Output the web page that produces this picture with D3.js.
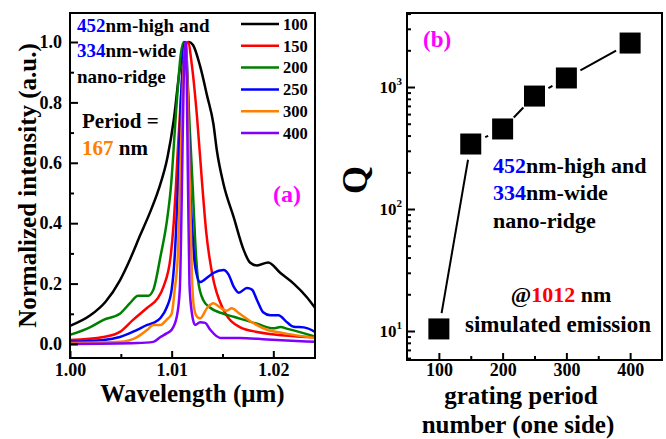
<!DOCTYPE html>
<html>
<head>
<meta charset="utf-8">
<script src="https://cdn.jsdelivr.net/npm/d3@7"></script>
<style>
  body { margin: 0; background: #fff; }
</style>
</head>
<body>
<svg id="chart" width="666" height="439" font-family="'Liberation Serif', 'Times New Roman', Times, 'DejaVu Serif', serif" font-weight="bold"></svg>
<script>
// ---- panel (a): normalized spectra, [wavelength um, intensity]
const spec100 = [[1.0000,0.060],[1.0020,0.095],[1.0035,0.14],[1.0049,0.21],[1.0059,0.28],[1.0069,0.36],[1.0078,0.43],[1.0087,0.51],[1.0096,0.62],[1.0102,0.74],[1.0108,0.91],[1.0113,0.995],[1.0117,1.0],[1.0121,0.99],[1.0128,0.92],[1.0135,0.82],[1.0141,0.73],[1.01445,0.64],[1.0151,0.53],[1.0161,0.42],[1.0171,0.31],[1.0177,0.27],[1.0184,0.26],[1.0195,0.27],[1.0207,0.235],[1.0220,0.20],[1.0233,0.155],[1.0241,0.12]];
const spec150 = [[1.0000,0.013],[1.0033,0.023],[1.0049,0.04],[1.0062,0.08],[1.0076,0.12],[1.0086,0.15],[1.0092,0.19],[1.0099,0.29],[1.0102,0.40],[1.0104,0.51],[1.0106,0.64],[1.0109,0.81],[1.0113,0.96],[1.0116,1.0],[1.0120,0.92],[1.0125,0.75],[1.0130,0.53],[1.0134,0.37],[1.0140,0.23],[1.0150,0.12],[1.0167,0.056],[1.0184,0.04],[1.0241,0.022]];
const spec200 = [[1.0000,0.03],[1.0020,0.056],[1.0033,0.08],[1.0049,0.10],[1.0059,0.135],[1.0067,0.16],[1.0077,0.16],[1.0082,0.18],[1.0089,0.29],[1.0095,0.40],[1.0099,0.51],[1.0105,0.80],[1.0109,0.96],[1.0112,1.0],[1.0115,0.90],[1.0118,0.70],[1.0121,0.50],[1.0123,0.35],[1.0126,0.21],[1.0131,0.146],[1.0138,0.12],[1.0151,0.10],[1.0161,0.09],[1.0184,0.067],[1.0200,0.052],[1.0207,0.056],[1.0214,0.05],[1.0241,0.025]];
const spec250 = [[1.0000,0.007],[1.0033,0.013],[1.0049,0.023],[1.0066,0.047],[1.0076,0.063],[1.0082,0.07],[1.0089,0.086],[1.0095,0.12],[1.0100,0.18],[1.0103,0.29],[1.0106,0.51],[1.0109,0.80],[1.0113,1.0],[1.0116,0.85],[1.0118,0.55],[1.0121,0.34],[1.0123,0.26],[1.0128,0.205],[1.0135,0.22],[1.0141,0.235],[1.0151,0.245],[1.0156,0.23],[1.0161,0.19],[1.0166,0.17],[1.0174,0.185],[1.0179,0.18],[1.0184,0.145],[1.0190,0.105],[1.0197,0.095],[1.0205,0.095],[1.0214,0.07],[1.0220,0.057],[1.0230,0.055],[1.0241,0.04]];
const spec300 = [[1.0000,0.003],[1.0049,0.007],[1.0066,0.023],[1.0076,0.047],[1.0082,0.063],[1.0089,0.063],[1.0095,0.08],[1.0100,0.10],[1.0103,0.18],[1.0106,0.29],[1.0108,0.51],[1.0111,0.85],[1.0114,1.0],[1.0116,0.80],[1.0118,0.50],[1.0120,0.22],[1.0122,0.12],[1.0125,0.09],[1.0128,0.085],[1.0135,0.12],[1.0141,0.135],[1.0148,0.12],[1.0154,0.11],[1.0159,0.118],[1.0167,0.10],[1.0180,0.07],[1.0194,0.047],[1.0210,0.036],[1.0241,0.02]];
const spec400 = [[1.0000,0.0],[1.0066,0.003],[1.0082,0.007],[1.0089,0.023],[1.0095,0.035],[1.0100,0.047],[1.0105,0.09],[1.0108,0.18],[1.0110,0.50],[1.0112,0.90],[1.0114,1.0],[1.0116,0.55],[1.01175,0.20],[1.0120,0.10],[1.0123,0.063],[1.0128,0.072],[1.0133,0.07],[1.0138,0.047],[1.0148,0.02],[1.0167,0.02],[1.0194,0.015],[1.0241,0.007]];
const seriesNames = ["100", "150", "200", "250", "300", "400"];
const seriesColors = ["#000000", "#ff0000", "#008000", "#0000ff", "#ff8000", "#8000ff"];
const xTicksA = [1.00, 1.01, 1.02];
const yTicksA = [0.0, 0.2, 0.4, 0.6, 0.8, 1.0];

// ---- panel (b): Q factor vs grating period number
const periods = [100, 150, 200, 250, 300, 400];
const qValues = [10.4, 341, 453, 843, 1186, 2293];
const xTicksB = [100, 200, 300, 400];
const yTicksB = [10, 100, 1000];

var svg = d3.select("#chart");

createSpectra();
createQ();

function styleAxis(a) {
    a.attr("font-family", null).attr("font-size", null);
    a.select(".domain").remove();
    a.selectAll("line").attr("stroke", "#000").attr("stroke-width", 2);
    a.selectAll("text").attr("fill", "#000").style("font-size", "18px");
}

function createSpectra() {
    var left = 70, right = 315, top = 13, bottom = 358;
    var x = d3.scaleLinear().domain([1.00, 1.0241]).range([left, right]);
    var y = d3.scaleLinear().domain([-0.0464, 1.096]).range([bottom, top]);

    svg.append("clipPath").attr("id", "clipA")
        .append("rect").attr("x", left).attr("y", top).attr("width", right - left).attr("height", bottom - top);

    var line = d3.line()
        .x(function(d) { return x(d[0]); })
        .y(function(d) { return y(d[1]); })
        .curve(d3.curveMonotoneX);

    var allSpec = [spec100, spec150, spec200, spec250, spec300, spec400];
    var g = svg.append("g").attr("clip-path", "url(#clipA)");
    allSpec.forEach(function(s, i) {
        g.append("path").attr("d", line(s))
            .attr("fill", "none")
            .attr("stroke", seriesColors[i])
            .attr("stroke-width", 2.5)
            .attr("stroke-linejoin", "round");
    });

    // axes, ticks inside
    var xAxis = d3.axisBottom(x).tickValues(xTicksA).tickSize(-7).tickPadding(5).tickFormat(d3.format(".2f"));
    var xMinor = d3.axisBottom(x).tickValues([1.005, 1.015]).tickSize(-4).tickFormat("");
    var yAxis = d3.axisLeft(y).tickValues(yTicksA).tickSize(-8).tickPadding(8).tickFormat(d3.format(".1f"));
    var yMinor = d3.axisLeft(y).tickValues([0.1, 0.3, 0.5, 0.7, 0.9]).tickSize(-4).tickFormat("");

    styleAxis(svg.append("g").attr("transform", "translate(0," + bottom + ")").call(xAxis));
    styleAxis(svg.append("g").attr("transform", "translate(0," + bottom + ")").call(xMinor));
    styleAxis(svg.append("g").attr("transform", "translate(" + left + ",0)").call(yAxis));
    styleAxis(svg.append("g").attr("transform", "translate(" + left + ",0)").call(yMinor));

    svg.append("rect").attr("x", left).attr("y", top).attr("width", right - left).attr("height", bottom - top)
        .attr("fill", "none").attr("stroke", "#000").attr("stroke-width", 2);

    svg.append("text").attr("x", (left + right) / 2).attr("y", 402).attr("text-anchor", "middle")
        .style("font-size", "25px").text("Wavelength (\u03bcm)");
    svg.append("text").attr("transform", "translate(36," + ((top + bottom) / 2) + ") rotate(-90)")
        .attr("text-anchor", "middle").style("font-size", "25px").text("Normalized intensity (a.u.)");

    // legend
    var leg = svg.append("g");
    seriesNames.forEach(function(n, i) {
        var ly = 24 + i * 21.8;
        leg.append("line").attr("x1", 241).attr("x2", 279).attr("y1", ly).attr("y2", ly)
            .attr("stroke", seriesColors[i]).attr("stroke-width", 2.5);
        leg.append("text").attr("x", 283).attr("y", ly).attr("dy", "0.35em")
            .style("font-size", "16.5px").text(n);
    });

    // annotations
    var t1 = svg.append("text").attr("x", 77).attr("y", 32).style("font-size", "19px");
    t1.append("tspan").attr("fill", "#0000ff").text("452");
    t1.append("tspan").text("nm-high and");
    var t2 = svg.append("text").attr("x", 77).attr("y", 57).style("font-size", "19px");
    t2.append("tspan").attr("fill", "#0000ff").text("334");
    t2.append("tspan").text("nm-wide");
    svg.append("text").attr("x", 77).attr("y", 83).style("font-size", "19px").text("nano-ridge");
    svg.append("text").attr("x", 82).attr("y", 128).style("font-size", "21px").text("Period =");
    var t3 = svg.append("text").attr("x", 82).attr("y", 155).style("font-size", "21px");
    t3.append("tspan").attr("fill", "#ff8000").text("167");
    t3.append("tspan").text(" nm");
    svg.append("text").attr("x", 273).attr("y", 202).attr("fill", "#ff00ff")
        .style("font-size", "24px").text("(a)");
}

function createQ() {
    var left = 407, right = 662, top = 13, bottom = 360;
    var x = d3.scaleLinear().domain([50, 450]).range([left, right]);
    var y = d3.scaleLog().domain([5.785, 4043]).range([bottom, top]);

    var xAxis = d3.axisBottom(x).tickValues(xTicksB).tickSize(-7).tickPadding(3).tickFormat(d3.format("d"));
    var xMinor = d3.axisBottom(x).tickValues([150, 250, 350]).tickSize(-4).tickFormat("");
    var yAxis = d3.axisLeft(y).tickValues(yTicksB).tickSize(-8).tickFormat("");
    var minorVals = [6, 7, 8, 9, 20, 30, 40, 50, 60, 70, 80, 90, 200, 300, 400, 500, 600, 700, 800, 900, 2000, 3000, 4000];
    var yMinor = d3.axisLeft(y).tickValues(minorVals).tickSize(-4).tickFormat("");

    styleAxis(svg.append("g").attr("transform", "translate(0," + bottom + ")").call(xAxis));
    styleAxis(svg.append("g").attr("transform", "translate(0," + bottom + ")").call(xMinor));
    styleAxis(svg.append("g").attr("transform", "translate(" + left + ",0)").call(yAxis));
    styleAxis(svg.append("g").attr("transform", "translate(" + left + ",0)").call(yMinor));

    // log labels 10^n
    yTicksB.forEach(function(v) {
        var t = svg.append("text").attr("x", left - 5).attr("y", y(v) + 6)
            .attr("text-anchor", "end").style("font-size", "17px");
        t.append("tspan").text("10");
        t.append("tspan").attr("dy", -8).style("font-size", "11px").text(Math.round(Math.log10(v)));
    });

    svg.append("rect").attr("x", left).attr("y", top).attr("width", right - left).attr("height", bottom - top)
        .attr("fill", "none").attr("stroke", "#000").attr("stroke-width", 2);

    // connecting line with gaps around the markers
    var gap = 16;
    for (var i = 0; i < periods.length - 1; i++) {
        var x1 = x(periods[i]), y1 = y(qValues[i]), x2 = x(periods[i + 1]), y2 = y(qValues[i + 1]);
        var len = Math.hypot(x2 - x1, y2 - y1);
        if (len <= 2 * gap) continue;
        var ux = (x2 - x1) / len, uy = (y2 - y1) / len;
        svg.append("line")
            .attr("x1", x1 + ux * gap).attr("y1", y1 + uy * gap)
            .attr("x2", x2 - ux * gap).attr("y2", y2 - uy * gap)
            .attr("stroke", "#000").attr("stroke-width", 2);
    }

    svg.append("g").selectAll("rect")
        .data(periods)
        .enter()
        .append("rect")
        .attr("x", function(d) { return x(d) - 10.5; })
        .attr("y", function(d, i) { return y(qValues[i]) - 10.5; })
        .attr("width", 21)
        .attr("height", 21)
        .attr("fill", "#000");

    svg.append("text").attr("x", 423).attr("y", 47).attr("fill", "#ff00ff")
        .style("font-size", "23px").text("(b)");

    var t1 = svg.append("text").attr("x", 493).attr("y", 173).style("font-size", "22px");
    t1.append("tspan").attr("fill", "#0000ff").text("452");
    t1.append("tspan").text("nm-high and");
    var t2 = svg.append("text").attr("x", 493).attr("y", 200).style("font-size", "22px");
    t2.append("tspan").attr("fill", "#0000ff").text("334");
    t2.append("tspan").text("nm-wide");
    svg.append("text").attr("x", 493).attr("y", 228).style("font-size", "22px").text("nano-ridge");

    var t3 = svg.append("text").attr("x", 561).attr("y", 302).attr("text-anchor", "middle").style("font-size", "22px");
    t3.append("tspan").text("@");
    t3.append("tspan").attr("fill", "#ff0000").text("1012");
    t3.append("tspan").text(" nm");
    svg.append("text").attr("x", 558).attr("y", 332).attr("text-anchor", "middle")
        .style("font-size", "23px").text("simulated emission");

    svg.append("text").attr("transform", "translate(367,180) rotate(-90)")
        .attr("text-anchor", "middle").style("font-size", "36px").text("Q");

    svg.append("text").attr("x", 521).attr("y", 404).attr("text-anchor", "middle")
        .style("font-size", "25px").text("grating period");
    svg.append("text").attr("x", 518).attr("y", 433).attr("text-anchor", "middle")
        .style("font-size", "25px").text("number (one side)");
}
</script>
</body>
</html>
